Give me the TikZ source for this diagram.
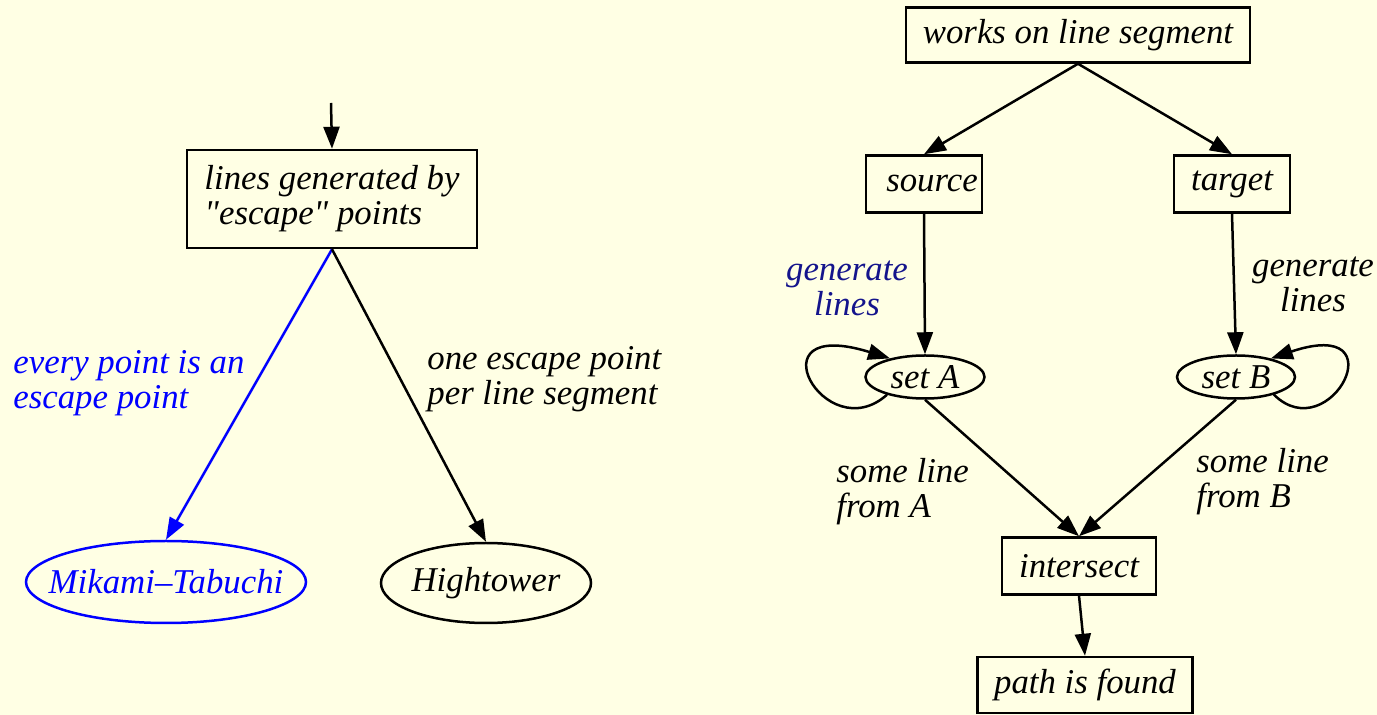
\documentclass[tikz,border=0pt]{standalone}
\usepackage{fontspec}
\setmainfont{Liberation Serif}[Ligatures=TeXOff]
\usetikzlibrary{arrows.meta,shapes.geometric}
\definecolor{bgyellow}{RGB}{255,255,228}
\definecolor{navytext}{RGB}{20,20,140}
\newcommand{\zw}[1]{\makebox[0pt]{#1}}
\begin{document}
\begin{tikzpicture}[x=0.5pt,y=-0.5pt,
  font=\fontsize{17.4}{17.5}\selectfont\itshape,
  box/.style={draw, line width=1.25pt, inner sep=0pt},
  ell/.style={draw, ellipse, line width=1.25pt, inner sep=0pt},
  edge/.style={draw, line width=1.25pt, -{Triangle[length=11pt,width=8pt]}},
  lbl/.style={inner sep=0pt}]
\fill[bgyellow] (0,0) rectangle (1377,715);
\useasboundingbox (0,0) rectangle (1377,715);

% left graph
\node[box, minimum width=145pt, minimum height=49pt, align=left] (lg) at (332,199) {lines generated by\\"escape" points};
\coordinate (entry) at (331,103);
\node[ell, blue, minimum width=140pt, minimum height=41pt] (mt) at (166,582) {\zw{Mikami\textendash Tabuchi}};
\node[ell, minimum width=105pt, minimum height=40pt] (ht) at (486,583) {\zw{Hightower}};
\draw[edge] (entry) -- (lg.north);
\draw[edge, blue] (lg.south) -- (mt.north);
\draw[edge] (lg.south) -- (ht.north);
\node[lbl, blue, anchor=west, align=left] (l1) at (13,383) {every point is an\\escape point};
\node[lbl, anchor=west, align=left] (l2) at (427,379) {one escape point\\per line segment};

% right graph
\node[box, minimum width=172pt, minimum height=27.5pt] (w) at (1078,35) {works on line segment};
\node[box, minimum width=58pt, minimum height=28.5pt] (src) at (924,184) {\hspace{8pt}source};
\node[box, minimum width=58pt, minimum height=28.5pt] (tgt) at (1232,184) {target};
\node[ell, minimum width=59.5pt, minimum height=21.5pt] (sa) at (925,377) {\zw{set A}};
\node[ell, minimum width=59pt, minimum height=21.5pt] (sb) at (1236,377) {\zw{set B}};
\node[box, minimum width=77pt, minimum height=28.5pt] (is) at (1079,566) {intersect};
\node[box, minimum width=107.5pt, minimum height=28pt] (pf) at (1085,685) {path is found};

\draw[edge] (w.south) -- (src.north);
\draw[edge] (w.south) -- (tgt.north);
\draw[edge] (src.south) -- (sa.north);
\draw[edge] (tgt.south) -- (sb.north);
\draw[edge] (sa.205) .. controls (825,450) and (750,315) .. (sa.152);
\draw[edge] (sb.-25) .. controls (1330,450) and (1400,315) .. (sb.28);
\draw[edge] (sa.south) -- (is.north);
\draw[edge] (sb.south) -- (is.north);
\draw[edge] (is.south) -- (pf.north);

\node[lbl, navytext, align=center] (g1) at (847,288) {generate\\lines};
\node[lbl, align=center] (g2) at (1313,284) {generate\\lines};
\node[lbl, anchor=west, align=left] (s1) at (836,492) {some line\\from A};
\node[lbl, anchor=west, align=left] (s2) at (1196,482) {some line\\from B};
\end{tikzpicture}
\end{document}
